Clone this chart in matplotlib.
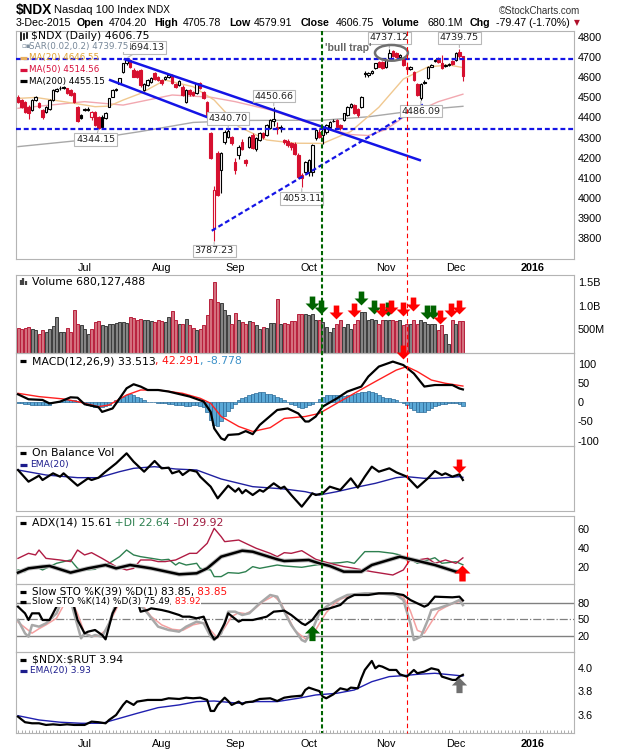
import matplotlib
matplotlib.use("Agg")
import matplotlib.pyplot as plt
import numpy as np
import pandas as pd
from matplotlib.lines import Line2D
from matplotlib.patches import Ellipse
from matplotlib.path import Path
from matplotlib.transforms import blended_transform_factory

W, H = 620, 750
plt.rcParams['font.family'] = ['DejaVu Sans']
plt.rcParams['axes.unicode_minus'] = False
TF = 'Liberation Sans'

# ---------------- data ----------------
holidays = ['2015-07-03', '2015-09-07', '2015-11-26', '2015-12-25', '2016-01-01', '2016-01-18']
days = pd.bdate_range('2015-06-04', '2016-01-29')
days = days[~days.isin(pd.to_datetime(holidays))]

opens = [4503, 4486, 4478, 4453, 4437, 4486, 4470, 4437, 4428, 4440,
         4486, 4530, 4548, 4550, 4544, 4535, 4520, 4453, 4412, 4440,
         4442, 4400, 4428, 4404, 4404, 4395, 4453, 4503, 4540, 4568,
         4627, 4668, 4684, 4635, 4630, 4635, 4536, 4560, 4577, 4618,
         4601, 4585, 4590, 4600, 4612, 4565, 4560, 4552, 4478, 4536,
         4528, 4519, 4569, 4527, 4478, 4321, 3850, 4222, 4139, 4280,
         4305, 4304, 4180, 4213, 4280, 4188, 4255, 4312, 4245, 4290,
         4321, 4313, 4346, 4380, 4350, 4350, 4288, 4285, 4272, 4270,
         4215, 4115, 4131, 4131, 4131, 4296, 4329, 4312, 4329, 4354,
         4380, 4387, 4362, 4387, 4412, 4452, 4461, 4440, 4453, 4620,
         4610, 4620, 4643, 4676, 4676, 4651, 4693, 4730, 4718, 4698,
         4693, 4650, 4641, 4626, 4568, 4495, 4577, 4594, 4652, 4680,
         4685, 4668, 4655, 4660, 4680, 4685, 4725, 4704.20]
highs = [4510, 4490, 4482, 4460, 4490, 4508, 4478, 4440, 4458, 4490,
         4540, 4548, 4556, 4558, 4548, 4540, 4525, 4458, 4418, 4446,
         4450, 4432, 4432, 4408, 4410, 4425, 4498, 4540, 4545, 4596,
         4670, 4694.13, 4690, 4645, 4636, 4640, 4572, 4590, 4598, 4625,
         4606, 4590, 4606, 4616, 4615, 4572, 4585, 4560, 4540, 4540,
         4532, 4572, 4575, 4532, 4482, 4330, 4060, 4235, 4228, 4335,
         4340, 4310, 4200, 4262, 4292, 4195, 4310, 4325, 4305, 4330,
         4328, 4366, 4392, 4450.66, 4375, 4360, 4295, 4295, 4280, 4278,
         4222, 4125, 4185, 4192, 4268, 4342, 4340, 4350, 4368, 4384,
         4392, 4392, 4368, 4424, 4458, 4470, 4468, 4445, 4506, 4628,
         4626, 4636, 4672, 4682, 4680, 4688, 4737.12, 4735, 4722, 4712,
         4698, 4656, 4655, 4630, 4572, 4572, 4585, 4656, 4665, 4690,
         4700, 4710, 4665, 4670, 4685, 4722, 4739.75, 4705.78]
lows = [4472, 4448, 4420, 4390, 4430, 4480, 4445, 4390, 4420, 4435,
        4482, 4525, 4538, 4540, 4515, 4505, 4470, 4375, 4390, 4430,
        4432, 4385, 4358, 4344.15, 4345, 4390, 4450, 4500, 4530, 4565,
        4620, 4660, 4645, 4598, 4595, 4550, 4530, 4555, 4570, 4585,
        4580, 4562, 4585, 4595, 4565, 4545, 4555, 4505, 4470, 4508,
        4505, 4515, 4540, 4490, 4405, 4195, 3787.23, 4010, 4025, 4270,
        4300, 4265, 4120, 4195, 4240, 4160, 4250, 4245, 4235, 4285,
        4295, 4308, 4340, 4355, 4320, 4330, 4270, 4255, 4240, 4215,
        4100, 4053.11, 4125, 4110, 4110, 4290, 4298, 4270, 4320, 4350,
        4375, 4348, 4335, 4380, 4408, 4448, 4415, 4402, 4448, 4600,
        4600, 4615, 4638, 4648, 4638, 4645, 4688, 4700, 4695, 4690,
        4655, 4630, 4636, 4580, 4505, 4486.09, 4565, 4590, 4648, 4675,
        4668, 4638, 4648, 4655, 4658, 4680, 4695, 4579.91]
closes = [4478, 4453, 4428, 4420, 4486, 4503, 4453, 4400, 4453, 4486,
          4536, 4540, 4544, 4546, 4520, 4512, 4478, 4380, 4395, 4436,
          4438, 4428, 4362, 4346, 4350, 4420, 4494, 4536, 4538, 4593,
          4668, 4684, 4650, 4602, 4600, 4560, 4568, 4585, 4593, 4590,
          4585, 4569, 4602, 4612, 4570, 4550, 4580, 4511, 4536, 4515,
          4510, 4569, 4544, 4495, 4412, 4197, 4040, 4015, 4222, 4329,
          4332, 4271, 4139, 4255, 4245, 4175, 4304, 4250, 4300, 4325,
          4305, 4362, 4387, 4390, 4340, 4345, 4280, 4265, 4255, 4220,
          4106, 4100, 4180, 4188, 4263, 4337, 4304, 4345, 4362, 4379,
          4384, 4354, 4345, 4420, 4453, 4466, 4420, 4410, 4502, 4614,
          4620, 4630, 4668, 4652, 4643, 4684, 4717, 4705, 4700, 4708,
          4660, 4638, 4650, 4585, 4511, 4568, 4572, 4651, 4660, 4685,
          4675, 4643, 4660, 4665, 4664, 4718, 4704, 4606.75]
volume_m = [535, 514, 535, 549, 514, 479, 409, 479, 444, 514,
            563, 760, 444, 444, 535, 444, 915, 620, 585, 514,
            409, 514, 655, 676, 585, 563, 620, 620, 634, 655,
            655, 634, 760, 739, 704, 725, 690, 704, 676, 655,
            690, 676, 655, 760, 887, 690, 620, 606, 725, 585,
            535, 493, 514, 585, 809, 1147, 1499, 1077, 1056, 901,
            795, 620, 844, 704, 655, 620, 676, 655, 585, 514,
            549, 528, 634, 641, 1147, 620, 634, 620, 676, 676,
            830, 816, 816, 795, 830, 704, 704, 655, 549, 444,
            528, 620, 690, 549, 620, 514, 620, 690, 866, 866,
            690, 725, 690, 620, 690, 690, 690, 690, 676, 690,
            585, 620, 606, 690, 620, 704, 655, 606, 620, 606,
            493, 585, 409, 198, 704, 620, 676, 680]

# moving averages (trading-day index, value)
ma20_x = [0, 5, 10, 16, 22, 26, 30, 35, 42, 50, 56, 63, 71, 79, 87, 95, 103, 110, 117, 123, 127]
ma20_y = [4494, 4499, 4486, 4470, 4453, 4456, 4486, 4519, 4585, 4552, 4486, 4354, 4288, 4272, 4271, 4330, 4450, 4590, 4650, 4660, 4647]
ma50_x = [0, 19, 30, 44, 55, 62, 72, 80, 87, 95, 100, 105, 110, 120, 127]
ma50_y = [4445, 4478, 4461, 4511, 4500, 4478, 4437, 4390, 4350, 4315, 4310, 4340, 4400, 4478, 4515]
ma200_x = [0, 20, 35, 50, 65, 87, 100, 115, 127]
ma200_y = [4255, 4290, 4330, 4375, 4385, 4386, 4403, 4437, 4455]

# trendlines (index, price)
upper_x, upper_y = [30.5, 114.7], [4688, 4188]
lower_x, lower_y = [26.3, 55.7], [4585, 4390]
rise_x, rise_y = [55.3, 116.0], [3838, 4468]
resist, support = 4688, 4340
green_day, red_day = 86.7, 110.9

# labelled highs / lows: (index, price, box offset x px, box offset y px)
price_labels = [(31, 4694.13, 18, 10.5), (23, 4344.15, -3, -11), (60, 4340.70, 0, 11),
                (73, 4450.66, 0, 11), (56, 3787.23, 0, -10), (81, 4053.11, 0, -11),
                (106, 4737.12, 0, 11.5), (126, 4739.75, 0, 11), (115, 4486.09, 0, -11)]

macd_x = [0, 3, 7, 9, 12, 15, 17, 19, 23, 24, 27, 29, 31, 33, 35, 37, 40, 43, 49, 53, 55, 56, 58, 59,
          60, 63, 65, 67, 69, 74, 77, 80, 82, 83, 85, 87, 91, 94, 98, 100, 103, 107, 110, 113, 116,
          119, 124, 126, 127]
macd_y = [20.8, 7.9, 6.1, -3, 1.7, 13, 12, -5, -13, -25, -16, 10, 36.5, 47, 41, 32, 32, 28, 15, 2,
          -25, -68, -94, -98, -85, -83, -75, -83, -59, -20, -16, -29, -50, -50, -37, -11, 10, 28, 41,
          67, 93, 106, 97, 75, 41, 45, 45, 36, 33.5]
sig_x = [0, 6, 13, 17, 23, 26, 31, 35, 40, 47, 52, 55, 58, 63, 67, 72, 76, 82, 86, 91, 96, 102,
         108, 111, 114, 118, 122, 127]
sig_y = [23.4, 14.8, 8.7, 1.7, -11.3, -7, 19, 32, 32, 23.4, 10.4, -2.6, -37, -63, -76, -66, -42,
         -37, -29, -2.6, 23.4, 54, 84, 93, 80, 58, 49.5, 42.3]
macd_hist = [-2, -3, -4, -5, -6, -7, -8, -8, -8, -7,
             0, 2, 4, 5, 6, 6, 5, 3, 0, -3,
             -6, -9, -11, -12, -12, -9, -6, 0, 5, 10,
             15, 20, 22, 20, 15, 10, 5, 2, 0, 0,
             -1, -2, -3, -4, -5, -6, -7, -8, -9, -9,
             -8, -8, -9, -12, -25, -45, -60, -62, -50, -35,
             -22, -15, -5, 5, 12, 15, 18, 22, 25, 28,
             26, 22, 22, 20, 15, 10, 5, 0, -5, -8,
             -12, -14, -12, -8, -4, 2, 8, 14, 18, 20,
             20, 18, 16, 16, 18, 20, 22, 24, 26, 28,
             30, 28, 25, 20, 15, 12, 10, 8, 5, 2,
             -2, -8, -15, -20, -25, -26, -24, -20, -15, -10,
             -6, -4, -4, -3, -3, -3, -5, -8.8]

obv_x = [0, 3, 6, 7, 10, 12, 13, 17, 20, 21, 23, 25, 28, 31, 33, 36, 39, 41, 43, 44, 46, 47, 49, 51,
         52, 55, 57, 60, 62, 63, 64, 65, 67, 69, 70, 73, 75, 76, 78, 81, 84, 85, 87, 89, 92, 95, 97,
         99, 101, 103, 106, 108, 111, 114, 117, 119, 121, 122, 124, 126, 127]
obv_y = [15.40, 14.00, 14.72, 14.20, 15.00, 14.60, 15.00, 13.52, 14.40, 14.20, 14.48, 15.20, 16.20,
         17.40, 16.40, 15.20, 16.48, 15.60, 15.68, 15.00, 15.28, 14.80, 15.40, 15.20, 14.60, 13.40,
         12.00, 13.52, 12.80, 13.20, 12.60, 13.00, 12.40, 13.00, 12.80, 13.80, 13.20, 13.40, 12.40,
         11.00, 12.60, 12.40, 12.60, 13.40, 13.00, 14.40, 13.28, 14.60, 15.80, 15.20, 15.60, 15.12,
         14.60, 13.28, 14.40, 15.28, 14.80, 15.00, 14.60, 14.88, 14.20]
obv_ema_x = [0, 8, 17, 23, 29, 33, 39, 45, 51, 58, 67, 76, 82, 86, 91, 96, 102, 108, 111, 116, 119, 126, 127]
obv_ema_y = [15.40, 14.80, 14.48, 14.48, 15.20, 15.60, 15.80, 15.52, 15.40, 14.32, 13.40, 13.12,
             12.80, 12.40, 12.80, 13.28, 13.80, 14.48, 14.60, 14.40, 14.40, 14.60, 14.52]

adx_x = [0, 3, 7, 9, 15, 20, 25, 28, 32, 38, 46, 51, 54, 58, 64, 67, 74, 76, 83, 86, 89, 93, 98,
         101, 109, 113, 119, 125, 127]
adx_y = [14.4, 18.9, 20.7, 21.4, 14.4, 18.9, 22.4, 18.9, 22.4, 18.9, 12.6, 13.7, 18.9, 31.2, 37.5,
         36.4, 28.4, 26.6, 27.7, 24.2, 21.4, 15.4, 15.4, 22.4, 31.2, 27.7, 22.4, 15.4, 15.61]
pdi_x = [0, 2, 3, 5, 7, 11, 15, 17, 19, 22, 24, 26, 29, 31, 33, 35, 38, 41, 43, 45, 46, 48, 51, 52,
         55, 56, 58, 60, 63, 65, 67, 69, 74, 76, 81, 85, 89, 92, 94, 96, 99, 103, 107, 109, 111,
         112, 114, 117, 119, 121, 125, 127]
pdi_y = [17.2, 15.4, 20.0, 20.7, 17.2, 24.2, 27.7, 18.9, 17.2, 17.9, 22.4, 24.2, 31.2, 38.2, 33.0,
         31.2, 29.5, 27.7, 28.4, 22.4, 24.9, 22.4, 24.2, 18.9, 17.2, 10.2, 10.2, 14.4, 13.7, 15.4,
         20.7, 18.9, 22.4, 21.4, 20.0, 22.4, 24.2, 24.9, 25.9, 24.2, 36.5, 36.5, 34.7, 33.0, 27.7,
         28.4, 24.2, 27.7, 30.1, 24.2, 25.9, 22.64]
mdi_x = [0, 3, 5, 6, 8, 12, 15, 17, 19, 21, 24, 28, 31, 33, 35, 38, 40, 42, 45, 47, 49, 51, 54, 56,
         58, 59, 63, 65, 68, 72, 74, 76, 78, 81, 83, 85, 89, 93, 96, 101, 107, 110, 112, 114, 117,
         119, 122, 125, 127]
mdi_y = [29.4, 34.7, 33.0, 38.2, 29.4, 27.7, 26.0, 38.2, 33.0, 35.4, 29.4, 20.7, 17.2, 18.9, 27.7,
         27.7, 26.0, 26.0, 27.7, 31.2, 34.7, 34.7, 45.2, 61.0, 52.2, 47.0, 48.7, 45.2, 40.0, 34.7,
         31.2, 35.4, 34.7, 37.5, 33.0, 28.4, 24.2, 20.7, 18.9, 15.4, 11.9, 17.2, 28.4, 27.7, 29.4,
         24.2, 27.7, 24.2, 29.92]

k39_x = [0, 2, 3, 4, 6, 7, 9, 11, 13, 15, 16, 17, 19, 20, 22, 24, 25, 27, 28, 30, 32, 34, 35, 37,
         38, 41, 43, 46, 47, 49, 51, 53, 55, 56, 57, 59, 60, 63, 64, 67, 71, 73, 76, 78, 81, 82, 84,
         86, 89, 92, 94, 96, 100, 103, 107, 110, 112, 116, 117, 119, 124, 126, 127]
k39_y = [72.7, 60.7, 48.7, 60.7, 60.7, 48.7, 48.7, 72.7, 85, 88, 72.7, 48.7, 24.7, 27.7, 30.7, 21.7,
         13.9, 60.7, 72.7, 90, 92, 85, 63.7, 66.7, 69.7, 66.7, 63.7, 57.7, 54.7, 54.7, 51.7, 54.7,
         24.7, 13.9, 18.7, 42.7, 60.7, 45.7, 48.7, 48.7, 54.7, 63.7, 65.5, 57.7, 42.7, 39.7, 48.7,
         65.5, 69.7, 75.7, 87.7, 93.7, 93.7, 96.7, 96.7, 93.7, 84.7, 72.7, 75.7, 90.7, 89.5, 90.7, 83.85]
k14_x = [0, 2, 3, 4, 6, 8, 11, 13, 15, 16, 18, 19, 21, 22, 24, 26, 28, 30, 32, 34, 37, 40, 43, 46,
         48, 51, 53, 55, 56, 58, 60, 62, 64, 66, 69, 72, 74, 76, 78, 81, 82, 84, 86, 88, 91, 94, 99,
         103, 108, 110, 112, 113, 115, 117, 118, 120, 124, 126, 127]
k14_y = [48.7, 24.7, 18.7, 39.7, 36.7, 42.7, 60.7, 90, 85, 60.7, 15.7, 24.7, 18.7, 21.7, 18.7, 42.7,
         80, 95, 92, 82, 60.7, 36.7, 30.7, 27.7, 36.7, 45.7, 42.7, 18.7, 12.7, 24.7, 63.7, 63.7,
         57.7, 60.7, 78.7, 93.7, 90.7, 63.7, 39.7, 12.7, 9.7, 30.7, 60.7, 72.7, 84.7, 93.7, 96.7,
         96.7, 93.7, 84.7, 42.7, 12.7, 18.7, 48.7, 66.7, 69.7, 78.7, 84.7, 75.49]
d3_x = [0, 2, 4, 6, 8, 11, 13, 15, 17, 19, 21, 23, 25, 27, 29, 31, 33, 35, 38, 41, 44, 47, 50, 53,
        55, 57, 59, 61, 63, 65, 67, 70, 73, 75, 77, 79, 82, 84, 86, 88, 90, 92, 95, 100, 104, 108,
        110, 112, 114, 116, 118, 120, 122, 124, 126, 127]
d3_y = [45, 35, 25, 33, 40, 52, 75, 88, 60, 25, 20, 20, 30, 55, 80, 92, 90, 80, 55, 40, 32, 30, 40,
        44, 30, 16, 35, 55, 62, 60, 66, 82, 92, 80, 55, 30, 15, 20, 42, 62, 76, 86, 93, 96, 96, 94,
        90, 65, 30, 25, 45, 65, 72, 78, 82, 83.92]

rut_x = [0, 2, 4, 6, 8, 10, 12, 14, 16, 19, 21, 23, 25, 26, 28, 30, 31, 33, 34, 37, 39, 41, 43, 46,
         48, 50, 52, 54, 55, 56, 57, 59, 60, 61, 63, 64, 65, 67, 69, 72, 74, 76, 78, 81, 82, 83, 85,
         86, 87, 88, 90, 92, 94, 95, 97, 98, 99, 101, 102, 103, 104, 106, 108, 109, 111, 112, 113,
         114, 116, 118, 120, 121, 124, 125, 126, 127]
rut_y = [3.587, 3.540, 3.531, 3.531, 3.517, 3.522, 3.517, 3.522, 3.517, 3.517, 3.545, 3.540, 3.531,
         3.559, 3.601, 3.686, 3.719, 3.686, 3.714, 3.728, 3.728, 3.728, 3.742, 3.736, 3.747, 3.742,
         3.747, 3.728, 3.635, 3.635, 3.686, 3.747, 3.719, 3.686, 3.714, 3.691, 3.708, 3.714, 3.736,
         3.742, 3.719, 3.747, 3.756, 3.764, 3.812, 3.832, 3.812, 3.803, 3.756, 3.742, 3.775, 3.826,
         3.812, 3.832, 3.826, 3.910, 3.981, 4.057, 3.995, 4.017, 4.009, 3.981, 3.981, 3.944, 3.925,
         3.953, 3.981, 3.953, 3.967, 3.995, 3.981, 3.925, 3.897, 3.897, 3.925, 3.94]
rut_ema_x = [0, 6, 12, 18, 24, 29, 34, 40, 46, 51, 56, 63, 68, 74, 80, 85, 91, 96, 101, 106, 110, 114, 119, 124, 127]
rut_ema_y = [3.595, 3.559, 3.540, 3.531, 3.531, 3.573, 3.615, 3.663, 3.686, 3.714, 3.719, 3.700,
             3.714, 3.714, 3.742, 3.770, 3.784, 3.812, 3.882, 3.925, 3.933, 3.944, 3.953, 3.939, 3.93]

# signal arrows drawn on the panels (index, value)
vol_green = ([84.0, 86.5, 97.8, 101.5, 105.5, 116.8, 118.5], [1.049, 0.971, 1.148, 0.971, 0.922, 0.865, 0.865])
vol_red = ([90.8, 95.9, 103.8, 106.6, 109.8, 112.8, 120.4, 123.6, 125.8], [0.865, 0.90, 0.90, 0.97, 0.937, 1.027, 0.76, 0.90, 0.97])

# ---------------- helpers ----------------
def fx(px):
    return px / W

def fy(py):
    return 1 - py / H

fig = plt.figure(figsize=(W / 100, H / 100), dpi=100)
L, R = 15.8, 573.6

def panel(top, bottom):
    ax = fig.add_axes([fx(L), fy(bottom), fx(R) - fx(L), (bottom - top) / H])
    ax.set_facecolor('none')
    for s in ax.spines.values():
        s.set_color('#b4b4b4')
        s.set_linewidth(0.8)
    ax.set_xlim(-0.63, 158.6)
    ax.yaxis.tick_right()
    ax.tick_params(axis='y', length=0, pad=3, labelsize=7.8)
    ax.tick_params(axis='x', length=0, labelbottom=False)
    return ax

def yfont(ax):
    for t in ax.get_yticklabels():
        t.set_fontfamily(TF)

def chain(ax, x, y, parts, size=7.8, bg=False):
    kw = dict(fontsize=size, va='center', ha='left', zorder=10)
    if bg:
        kw['bbox'] = dict(fc='white', ec='none', pad=0.5)
    s, col = parts[0]
    t = ax.text(fx(x), fy(y), s, color=col, transform=fig.transFigure, **kw)
    for s, col in parts[1:]:
        t = ax.annotate(s, xy=(1, 0.5), xycoords=t, color=col, annotation_clip=False, **kw)
    return t

def mark(x0, x1, y, color, lw=2.3):
    fig.add_artist(Line2D([fx(x0), fx(x1)], [fy(y), fy(y)], color=color, lw=lw,
                          solid_capstyle='butt', zorder=11))

DOWN = Path([(-0.2, 0.5), (0.2, 0.5), (0.2, 0.0), (0.5, 0.0), (0.0, -0.5), (-0.5, 0.0),
             (-0.2, 0.0), (-0.2, 0.5)], closed=True)
UP = Path([(-0.2, -0.5), (0.2, -0.5), (0.2, 0.0), (0.5, 0.0), (0.0, 0.5), (-0.5, 0.0),
           (-0.2, 0.0), (-0.2, -0.5)], closed=True)

def arrows(ax, xs, ys, marker, color, ms=9.5):
    ax.plot(xs, ys, ls='none', marker=marker, ms=ms, color=color, mew=0, clip_on=False, zorder=8)

x = np.arange(len(closes))
o, hi, lo, c = (np.array(v, float) for v in (opens, highs, lows, closes))
prev = np.r_[o[:1], c[:-1]]
RED = '#d6102f'
cols = np.where(c < prev, RED, 'black')
faces = np.where(c > o, 'white', cols)

# ---------------- header ----------------
fig.text(fx(16), fy(10), '$NDX', fontsize=9.8, fontweight='bold', family=TF, va='center')
fig.text(fx(54), fy(10), 'Nasdaq 100 Index', fontsize=8, family=TF, va='center')
fig.text(fx(146), fy(10), 'INDX', fontsize=7.2, family=TF, va='center')
fig.text(fx(580), fy(11), '\u00a9StockCharts.com', fontsize=7, family=TF, va='center', ha='right', color='#333333')
head = [(16, '3-Dec-2015', False), (77, 'Open', True), (109, '4704.20', False), (154, 'High', True),
        (183, '4705.78', False), (229, 'Low', True), (254, '4579.91', False), (301, 'Close', True),
        (336, '4606.75', False), (382, 'Volume', True), (427, '680.1M', False), (470, 'Chg', True),
        (496, '-79.47 (-1.70%)', False)]
for px, s, b in head:
    fig.text(fx(px), fy(23), s, fontsize=7.7, family=TF, va='center',
             fontweight='bold' if b else 'normal')
fig.text(fx(577), fy(23), '\u25bc', fontsize=5.5, color='#b0102a', va='center', ha='center')

# ---------------- price panel ----------------
axp = panel(31, 259)
axp.set_ylim(3697.9, 4828.3)
axp.set_yticks(np.arange(3800, 4801, 100))
yfont(axp)
axp.plot(ma200_x, ma200_y, color='#a8a8a8', lw=1, zorder=1)
axp.plot(ma50_x, ma50_y, color='#f2a8b0', lw=1, zorder=1)
axp.plot(ma20_x, ma20_y, color='#f0c890', lw=1, zorder=1)
axp.vlines(x, lo, hi, colors=cols, lw=0.8, zorder=2)
axp.bar(x, np.maximum(np.abs(c - o), 2.5), bottom=np.minimum(o, c), width=0.72,
        color=faces, edgecolor=cols, linewidth=0.8, zorder=3)
blue = '#1414e6'
axp.axhline(resist, color=blue, lw=1.6, ls=(0, (2.2, 1.3)), zorder=4)
axp.axhline(support, color=blue, lw=1.6, ls=(0, (2.2, 1.3)), zorder=4)
axp.plot(upper_x, upper_y, color=blue, lw=1.8, zorder=4)
axp.plot(lower_x, lower_y, color=blue, lw=1.8, zorder=4)
axp.plot(rise_x, rise_y, color=blue, lw=1.6, ls=(0, (2.2, 1.3)), zorder=4)
for xi, v, dx, dy in price_labels:
    axp.annotate(f'{v:.2f}', xy=(xi, v), xytext=(dx * 0.72, dy * 0.72), textcoords='offset points',
                 ha='center', va='center', fontsize=6.8, color='#222222', zorder=6,
                 bbox=dict(boxstyle='square,pad=0.18', fc='white', ec='#b8b8b8', lw=0.8),
                 arrowprops=dict(arrowstyle='-', color='#b8b8b8', lw=0.8, shrinkA=0, shrinkB=1))
axp.add_patch(Ellipse((106.6, 4720), 9.4, 78, fill=False, ec='#707070', lw=1.8, zorder=7))
axp.text(94.2, 4744, "'bull trap'", ha='center', va='center', fontsize=7.6, fontweight='bold',
         family=TF, color='#666666', zorder=7)
axp.set_xticks([i for i in range(1, len(days)) if days[i].month != days[i - 1].month])
month_pos = list(axp.get_xticks())
month_lab = [days[int(i)].strftime('%b') if days[int(i)].month != 1 else str(days[int(i)].year)
             for i in month_pos]
axp.set_xticklabels(month_lab, fontsize=7.8, family=TF)
axp.tick_params(axis='x', labelbottom=True, pad=3)
for t in axp.get_xticklabels():
    if t.get_text() == '2016':
        t.set_fontweight('bold')

# price legend
fig.add_artist(Line2D([fx(21), fx(21)], [fy(32.5), fy(39.5)], color='black', lw=1.2, zorder=11))
fig.add_artist(Line2D([fx(24), fx(24)], [fy(33.5), fy(38.5)], color='black', lw=1.2, zorder=11))
fig.add_artist(Line2D([fx(27), fx(27)], [fy(32.5), fy(37.5)], color='black', lw=1.2, zorder=11))
chain(axp, 31, 36, [('$NDX (Daily) 4606.75', 'black')])
fig.text(fx(21.5), fy(46.5), '\u25ab\u25aa', fontsize=5, color='#8090a0', va='center', ha='left', zorder=11)
chain(axp, 29.5, 46.5, [('SAR(0.02,0.2) 4739.75', '#778899')], size=6.3, bg=True)
mark(20, 27, 57.5, '#e8b060')
chain(axp, 29, 57.5, [('MA(20) 4646.55', '#e0a030')], size=6.3)
mark(20, 27, 69.6, '#d8103c')
chain(axp, 29, 69.6, [('MA(50) 4514.56', '#d8103c')], size=6.3)
mark(20, 27, 81.2, 'black')
chain(axp, 29, 81.2, [('MA(200) 4455.15', 'black')], size=6.3)

# ---------------- volume ----------------
axv = panel(275, 353.3)
axv.set_ylim(0, 1.639e9)
vol = np.array(volume_m) * 1e6
vcols = np.where(c < prev, '#d4707e', '#848484')
vedge = np.where(c < prev, '#b8203c', '#3c3c3c')
axv.bar(x, vol, width=0.86, color=vcols, edgecolor=vedge, linewidth=0.7, zorder=2)
axv.set_yticks([5e8, 1e9, 1.5e9])
axv.set_yticklabels(['500M', '1.0B', '1.5B'])
yfont(axv)
arrows(axv, vol_green[0], np.array(vol_green[1]) * 1e9, DOWN, '#006400', ms=10)
arrows(axv, vol_red[0], np.array(vol_red[1]) * 1e9, DOWN, '#ff0000', ms=10)
for xi, hgt in ((20.5, 5), (23, 7), (25.5, 4)):
    fig.add_artist(Line2D([fx(xi), fx(xi)], [fy(285), fy(285 - hgt)], color='#444444', lw=1.6,
                          solid_capstyle='butt', zorder=11))
chain(axv, 31.6, 281.5, [('Volume 680,127,488', 'black')])

# ---------------- MACD ----------------
axm = panel(353.3, 445.5)
axm.set_ylim(-112.5, 127.6)
axm.bar(x, macd_hist, width=1.0, color='#5aa8d6', edgecolor='#2a6a98', linewidth=0.5, zorder=2)
axm.plot(sig_x, sig_y, color='#ff2020', lw=1, zorder=3)
axm.plot(macd_x, macd_y, color='black', lw=1.6, zorder=4)
axm.set_yticks([-100, -50, 0, 50, 100])
yfont(axm)
arrows(axm, [red_day - 1.1], [132], DOWN, '#ff0000', ms=10)
mark(20, 26, 361, 'black')
chain(axm, 31.6, 361, [('MACD(12,26,9) 33.513', 'black'), (', 42.291', '#ff1010'), (', -8.778', '#3a90c8')])

# ---------------- OBV ----------------
axo = panel(446, 511)
axo.set_ylim(10.48, 18.28)
axo.set_yticks([])
axo.plot(obv_ema_x, obv_ema_y, color='#2020a0', lw=1, zorder=3)
axo.plot(obv_x, obv_y, color='black', lw=1.6, zorder=4)
arrows(axo, [125.9], [15.82], DOWN, '#ff0000', ms=10)
mark(20, 26, 453.3, 'black')
chain(axo, 31.6, 453.3, [('On Balance Vol', 'black')])
mark(20, 27, 465, '#1c1c8c')
chain(axo, 29.7, 465, [('EMA(20)', '#1c1c8c')], size=6.6)

# ---------------- ADX ----------------
axa = panel(516, 584)
axa.set_ylim(2.42, 74.0)
axa.set_yticks([20, 40, 60])
yfont(axa)
axa.plot(pdi_x, pdi_y, color='#2e8050', lw=1, zorder=3)
axa.plot(mdi_x, mdi_y, color='#b01c44', lw=1, zorder=3)
axa.plot(adx_x, adx_y, color='#bdbdbd', lw=3.2, zorder=3)
axa.plot(adx_x, adx_y, color='black', lw=1.8, zorder=4)
arrows(axa, [126.7], [14.0], UP, '#ff0000', ms=11.5)
mark(20, 26, 522.7, 'black')
chain(axa, 31.6, 522.7, [('ADX(14) 15.61', 'black'), (' +DI 22.64', '#2e8050'), (' -DI 29.92', '#a01c40')])

# ---------------- Slow stochastics ----------------
axs = panel(584, 652)
axs.set_ylim(-8.9, 113.5)
axs.set_yticks([20, 50, 80])
yfont(axs)
axs.axhline(80, color='#808080', lw=1, zorder=1)
axs.axhline(20, color='#808080', lw=1, zorder=1)
axs.axhline(50, color='#808080', lw=0.9, ls='-.', zorder=1)
axs.plot(d3_x, d3_y, color='#f4a0a0', lw=1.1, zorder=2)
axs.plot(k14_x, k14_y, color='#a8a8a8', lw=1.8, zorder=2)
axs.plot(k39_x, k39_y, color='black', lw=1.6, zorder=3)
arrows(axs, [83.9], [26.2], UP, '#006400', ms=11)
mark(20, 26, 591.7, 'black')
chain(axs, 31.6, 591.7, [('Slow STO %K(39) %D(1) 83.85,', 'black'), (' 83.85', '#ff1010')], size=7.5, bg=True)
mark(20, 26, 601.7, 'black')
chain(axs, 31.6, 601.7, [('Slow STO %K(14) %D(3) 75.49,', 'black'), (' 83.92', '#ff1010')], size=6.5, bg=True)

# ---------------- NDX:RUT ratio ----------------
axr = panel(652, 733)
axr.set_ylim(3.449, 4.1325)
axr.set_yticks([3.6, 3.8, 4.0])
axr.set_yticklabels(['3.6', '3.8', '4.0'])
yfont(axr)
axr.plot(rut_ema_x, rut_ema_y, color='#2020b0', lw=1, zorder=3)
axr.plot(rut_x, rut_y, color='black', lw=1.6, zorder=4)
arrows(axr, [125.9], [3.85], UP, '#707070', ms=11)
axr.set_xticks(month_pos)
axr.set_xticklabels(month_lab, fontsize=7.8, family=TF)
axr.set_xticks(np.arange(0, 159), minor=True)
axr.tick_params(axis='x', which='major', labelbottom=True, pad=4, length=0)
axr.tick_params(axis='x', which='minor', direction='in', length=2, color='#a0a0a0', width=0.6)
for t in axr.get_xticklabels():
    if t.get_text() == '2016':
        t.set_fontweight('bold')
mark(20, 26, 660, 'black')
chain(axr, 31.6, 660, [(r'\$NDX:\$RUT 3.94', 'black')])
mark(20, 27, 671, '#1c1c8c')
chain(axr, 29.7, 671, [('EMA(20) 3.93', '#1c1c8c')], size=6.5)

# ---------------- marker lines across all panels ----------------
tr = blended_transform_factory(axp.transData, fig.transFigure)
fig.add_artist(Line2D([green_day, green_day], [fy(31), fy(733)], transform=tr, color='#006400',
                      lw=1.5, ls=(0, (2, 1.2)), zorder=9))
fig.add_artist(Line2D([red_day, red_day], [fy(31), fy(733)], transform=tr, color='#ff0000',
                      lw=0.8, ls=(0, (4, 3)), zorder=9))

fig.savefig('out.png', dpi=100)
